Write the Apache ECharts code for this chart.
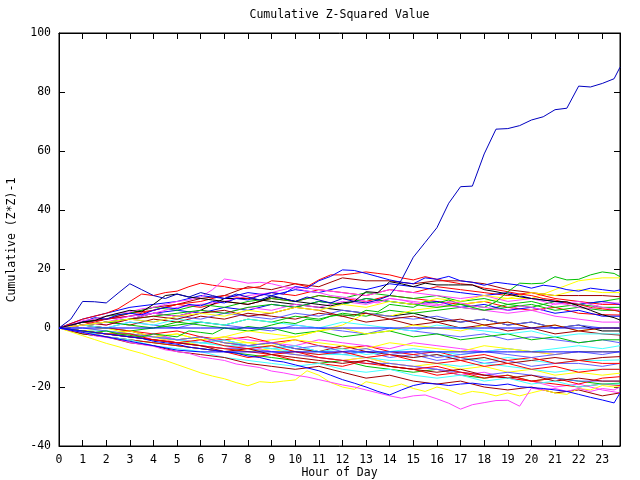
<!DOCTYPE html>
<html><head><meta charset="utf-8">
<script src="https://cdn.jsdelivr.net/npm/echarts@6/dist/echarts.min.js"></script>
<style>html,body{margin:0;padding:0;background:#fff}#c{width:640px;height:480px}</style>
</head><body><div id="c"></div>
<script>
// ---- x positions (hours) ----
const HALF = [0,0.5,1,1.5,2,2.5,3,3.5,4,4.5,5,5.5,6,6.5,7,7.5,8,8.5,9,9.5,10,10.5,11,11.5,12,12.5,13,13.5,14,14.5,15,15.5,16,16.5,17,17.5,18,18.5,19,19.5,20,20.5,21,21.5,22,22.5,23,23.5,23.75];
const HOURS = [0,1,2,3,4,5,6,7,8,9,10,11,12,13,14,15,16,17,18,19,20,21,22,23,23.75];

// ---- tick labels ----
const xTickLabels = ['0','1','2','3','4','5','6','7','8','9','10','11','12','13','14','15','16','17','18','19','20','21','22','23'];
const yTickLabels = ['-40','-20','0','20','40','60','80','100'];

// ---- half-hour series ----
const bigBlue = [0,3,9,8.9,8.5,11.8,15,13,11,10, 11.5,10.5,12,11,10,11.5,10.5,9.5,11,10, 9,10.5,9.5,8.5,10,9,8.5,9.5,11,16.3, 24,29,34,42.3,47.9,48.1,59,67.4,67.6,68.6, 70.5,71.6,74,74.5,82,81.7,82.9,84.5, 88.4];
const blueTop = [0,1,2,3.5,3,4.5,5,4.5,6,7, 6.5,8,7.5,9,8.5,10,9.5,11,12,11.5, 14,13.5,16,17.5,19.7,19.5,18.5,17.4,16.3,15.5, 15,17,16.5,17.5,16,15.5,14.5,15.5,15,14.5, 13.5,14.5,14,13,12.5,13.5,13,12.5, 12.9];
const redTop = [0,1.5,3,4,5,6.5,9,11.5,11,12, 12.5,14,15.2,14.5,14,13.2,13.5,14,16,15.7, 15,14,16.3,18,18,18.5,19,18.5,18,17, 16.3,17.4,16.5,15.7,15,14.6,13.5,13,12.3,11.5, 11,10,9.5,8.5,8,7,6.5,6, 5.5];
const magentaTop = [0,1,2.5,3,4,5,5.5,6.5,7,8, 9,9.5,10.5,13,16.6,16,15.2,15.5,15,14, 13.5,12.5,12,11,10.5,10,9,8.5,10,9.5, 8.5,8,7.5,9,8.5,7.5,7,6.5,6,7.5, 7,6,8.5,8,7,6.5,8.5,8.5, 8.4];
const greenTop = [0,-0.5,-1,-1.5,-1,-2,-2.5,-3,-2,-2.5, -3,-1,-1.5,-2,0,-0.5,0.5,0,1,2, 1.5,3,2.5,4,4.5,4,6,5.5,8,7.5, 7,9,8.5,9.5,8,7.5,7,8.9,12.3,15.2, 15,15.2,17.4,16.3,16.5,18,19,18.5, 17.4];
const blackTop = [0,1,2,2.5,4,5,6,5.5,8,11, 11.5,10.5,10,9.5,9,8.5,8,9,10.6,10, 9,8.5,8,7.5,8.5,9,12.3,12,15.7,15, 14,15.2,14.6,14.6,14.6,14.6,13,12.3,11.5,10.6, 10,9.5,9,8.9,7.5,6,4.5,3.5, 2.7];
const yellowBottom = [0,-1.3,-2.6,-3.9,-5.2,-6.3,-7.5,-8.6,-9.9,-11, -12.4,-13.8,-15.2,-16.3,-17.2,-18.5,-19.6,-18.2,-18.5,-18, -17.6,-14.5,-16,-18.5,-20,-20.8,-18.2,-19,-20,-19, -20.5,-21.5,-20,-21,-22.5,-21.5,-22,-23,-22,-23, -22,-21,-22,-22.5,-20.5,-21,-19.5,-20, -19.9];
const magentaBottom = [0,-0.8,-1.5,-2.6,-3.2,-3.8,-4.9,-5.6,-6.2,-7.4, -8,-8.6,-9.8,-10.4,-11,-12.2,-12.8,-13.4,-14.6,-15.2, -16,-16.6,-17.5,-18.4,-19.3,-20,-21,-22,-23,-23.8, -23,-22.7,-24,-25.5,-27.5,-26,-25.3,-24.6,-24.5,-26.5, -20.4,-21,-20.5,-21.5,-20.5,-21.5,-20.5,-21, -20];
const blueBottom = [0,-0.5,-1,-1.5,-2,-2.5,-3,-3.5,-4.5,-5, -5.5,-6.5,-7,-7.5,-8,-8.5,-9.5,-10,-11,-11.5, -12.5,-13.5,-14.5,-16,-17.5,-18.7,-20,-21.5,-22.7,-21, -19.5,-18.7,-19,-19.5,-19,-18.7,-19.2,-19.5,-19,-19.9, -20.2,-20.5,-21,-21.5,-22.5,-23.5,-24.4,-25.4, -22];

// ---- hourly series ----
const redA = [0,2,3,5,6,8,7,9,8,10,9,11,10,9,11,10,9,8,9,7,6,7,5,4.5,4.4];
const darkredA = [0,1,2,1,3,2,4,3,5,4,3,5,4,2,3,1,2,0,1,-1,0,-2,-1,-2,-2.4];
const slateA = [0,1,0,2,1,0,2,1,0,-1,1,0,-1,-2,0,-1,-2,-3,-2,-4,-3,-4,-5,-4,-5];
const cyanA = [0,-1,-2,-3,-4,-5,-5,-6,-7,-6,-7,-8,-9,-8,-9,-10,-9,-10,-11,-10,-11,-12,-11,-11,-10.8];
const darkredB = [0,-1,-2,-1,-3,-4,-3,-5,-6,-5,-7,-8,-6,-8,-9,-10,-9,-11,-10,-12,-11,-10,-11,-10,-9.7];
const yellowA = [0,-1,-2,-3,-4,-4,-6,-7,-8,-7,-9,-10,-11,-10,-12,-13,-12,-14,-13,-15,-14,-16,-15,-16,-15.3];
const redB = [0,-1,-3,-4,-5,-6,-7,-8,-10,-9,-11,-12,-13,-11,-13,-14,-16,-15,-17,-16,-18,-17,-19,-17,-16.5];
const greenA = [0,-2,-3,-4,-5,-6,-7,-8,-9,-10,-11,-12,-11,-13,-14,-15,-14,-16,-17,-16,-18,-17,-18,-19,-18.7];
const magentaA = [0,-1,-2,-3,-3,-5,-6,-7,-6,-8,-9,-10,-11,-10,-12,-13,-14,-16,-15,-17,-18,-20,-19,-21,-22];
const magentaB = [0,2,1,3,5,4,6,5,7,6,8,7,9,8,10,9,8,7,6,5,6,4,3,2,2];
const greenB = [0,1,0,-1,0,1,2,1,3,2,4,3,5,4,6,5,6,7,6,8,7,9,8,9,10];
const darkredC = [0,2,3,5,7,8,10,11,14,13,15,14,17,16,16,15,16,16,15,13,12,11,11,11,10.6];
const yellowB = [0,-1,-2,-2,-3,-4,-3,-5,-5,-4,-3,-1,1,5,4,6,7,8,9,10,10,13,16,17,17];
const cyanB = [0,-1,-1,-2,-3,-4,-5,-6,-6,-7,-8,-9,-9,-10,-11,-11,-12,-13,-12,-13,-14,-15,-14,-14,-14];
const greenC = [0,1,2,1,0,2,1,0,-1,0,-2,-1,-3,-2,-1,-3,-2,-4,-3,-2,-4,-3,-5,-4,-4];
const yellowC = [0,-1,0,-2,-3,-2,-4,-3,-5,-6,-4,-5,-6,-7,-5,-6,-7,-8,-6,-7,-8,-9,-8,-8,-8];
const slateB = [0,-1,-2,-3,-2,-4,-5,-4,-6,-7,-6,-8,-9,-8,-10,-9,-11,-10,-12,-11,-13,-12,-12,-13,-12];
const redC = [0,1,0,-1,-2,-1,-3,-4,-3,-5,-4,-6,-7,-6,-8,-9,-8,-10,-9,-11,-10,-12,-11,-12,-12];
const cyanC = [0,-1,-2,-2,-3,-4,-5,-4,-6,-7,-6,-8,-7,-9,-8,-7,-8,-9,-8,-7,-8,-7,-6,-7,-6];
const darkredD = [0,-1,-2,-3,-4,-5,-6,-8,-7,-9,-10,-11,-12,-11,-13,-14,-15,-14,-16,-17,-16,-18,-17,-18,-18];
const blueA = [0,2,3,4,5,6,5,7,6,8,7,9,8,10,9,8,9,7,8,6,7,5,6,4,4];
const slateC = [0,1,2,3,2,4,3,5,4,3,5,4,6,5,4,3,4,2,3,1,2,0,1,0,0];
const cyanD = [0,1,0,2,1,3,2,1,3,2,1,0,2,1,0,-1,1,0,-1,-2,-1,-3,-2,-2,-2];
const magentaC = [0,-1,-2,-3,-2,-4,-5,-3,-4,-5,-6,-4,-5,-6,-7,-5,-6,-7,-8,-7,-8,-9,-8,-8,-8];
const redD = [0,-1,-2,-3,-4,-5,-6,-7,-8,-9,-8,-10,-11,-12,-13,-14,-13,-15,-16,-17,-18,-19,-20,-19,-19.5];
const greenD = [0,1,2,3,4,5,6,5,7,8,7,9,8,10,9,8,7,8,6,7,8,6,7,6,6];
const blackB = [0,1,2,3,5,4,6,10,10,9,8,7,6,5,4,5,3,2,3,1,2,0,1,-1,-1];
const darkredE = [0,2,1,3,4,3,5,6,4,5,7,6,4,5,3,4,2,3,1,2,0,1,-1,0,0];
const yellowD = [0,-1,-2,-1,-3,-2,-4,-3,-1,-2,-3,-1,0,-2,-1,1,0,-1,1,2,0,1,-1,0,0];
const slateD = [0,-1,-2,-3,-4,-5,-6,-7,-7,-8,-9,-10,-11,-12,-12,-13,-14,-15,-16,-15,-16,-17,-18,-18,-18];
const redE = [0,1,3,4,6,8,9,11,10,12,11,13,12,11,13,12,14,13,12,11,12,10,9,8,8];
const greenE = [0,2,4,5,7,6,8,7,9,10,9,11,10,12,11,10,11,9,10,8,9,7,8,7,7];
const blueB = [0,3,5,7,8,9,11,10,12,11,13,12,14,13,15,14,13,12,11,12,10,9,8,9,8];
const magentaD = [0,1,2,4,5,7,8,9,11,12,14,13,12,11,13,12,11,10,11,9,10,8,9,7,6];
const cyanE = [0,-1,-3,-4,-6,-7,-8,-10,-11,-12,-13,-12,-14,-15,-14,-16,-17,-16,-18,-17,-19,-18,-20,-19,-19];
const darkredF = [0,-2,-3,-5,-6,-8,-9,-10,-12,-13,-14,-13,-15,-17,-16,-18,-19,-18,-20,-21,-20,-22,-21,-23,-22];
const slateE = [0,0,-1,-2,-3,-4,-3,-5,-6,-5,-7,-6,-8,-7,-9,-8,-10,-9,-8,-9,-10,-9,-8,-9,-8];
const yellowE = [0,1,2,3,2,4,5,4,6,5,7,6,8,7,9,8,10,9,11,10,12,11,13,12,12];
const redF = [0,-1,-2,-2,-4,-5,-4,-6,-7,-6,-8,-9,-8,-10,-9,-11,-12,-11,-13,-12,-14,-13,-15,-14,-14];
const flatZero = [0,0,0,0,0,0,0,0,0,0,0,0,0,0,0,0,0,0,0,0,0,0,0,0,0];
const flatLow = [0,-1.5,-3,-4.5,-6,-7.5,-8.1,-8.1,-8.1,-8.1,-8.1,-8.1,-8.1,-8.1,-8.1,-8.1,-8.1,-8.1,-8.1,-8.1,-8.1,-8.1,-8.1,-8.1,-8.1];

// ---- colours ----
const C = {red:'#ff0000', green:'#00c000', blue:'#0000ff', dblue:'#0000c0', magenta:'#ff40ff',
  cyan:'#40ffff', dred:'#a00000', yellow:'#ffff00', black:'#000000', slate:'#6060ff'};

const specs = [
  [HOURS, redA, C.red], [HOURS, greenA, C.green], [HOURS, slateA, C.slate], [HOURS, magentaA, C.magenta],
  [HOURS, cyanA, C.cyan], [HOURS, darkredA, C.dred], [HOURS, yellowA, C.yellow], [HOURS, blackB, C.black],
  [HOURS, slateB, C.slate], [HOURS, redB, C.red], [HOURS, greenB, C.green], [HOURS, blueA, C.blue],
  [HOURS, magentaB, C.magenta], [HOURS, cyanB, C.cyan], [HOURS, darkredB, C.dred], [HOURS, yellowB, C.yellow],
  [HOURS, slateC, C.slate], [HOURS, redC, C.red], [HOURS, greenC, C.green], [HOURS, magentaC, C.magenta],
  [HOURS, cyanC, C.cyan], [HOURS, darkredC, C.dred], [HOURS, yellowC, C.yellow], [HOURS, slateD, C.slate],
  [HOURS, redD, C.red], [HOURS, greenD, C.green], [HOURS, cyanD, C.cyan], [HOURS, darkredD, C.dred],
  [HOURS, yellowD, C.yellow], [HOURS, darkredE, C.dred],
  [HOURS, redE, C.red], [HOURS, greenE, C.green], [HOURS, blueB, C.blue], [HOURS, magentaD, C.magenta],
  [HOURS, cyanE, C.cyan], [HOURS, darkredF, C.dred], [HOURS, slateE, C.slate], [HOURS, yellowE, C.yellow],
  [HOURS, redF, C.red],
  [HALF, redTop, C.red], [HALF, greenTop, C.green], [HALF, blueTop, C.blue], [HALF, magentaTop, C.magenta],
  [HALF, blackTop, C.black], [HALF, yellowBottom, C.yellow], [HALF, magentaBottom, C.magenta],
  [HALF, blueBottom, C.blue],
  [HOURS, flatZero, C.blue], [HOURS, flatLow, C.blue],
  [HALF, bigBlue, C.dblue]
];

const FONT = 'DejaVu Sans Mono';
const series = specs.map(([xs, vals, col]) => ({
  type: 'line', data: xs.map((x, i) => [x, vals[i]]), showSymbol: false, symbol: 'none',
  lineStyle: {width: 1, color: col}, itemStyle: {color: col}, silent: true, animation: false,
  emphasis: {disabled: true}, clip: true
}));

function xAx(pos, labels) {
  return {type: 'value', min: 0, max: 23.75, interval: 1, position: pos,
    axisLine: {show: true, onZero: false, lineStyle: {color: '#000', width: 1}},
    axisTick: {show: true, inside: true, length: 6, lineStyle: {color: '#000'}},
    axisLabel: {show: labels, color: '#000', fontFamily: FONT, fontSize: 11.5, margin: 8,
      formatter: v => Number.isInteger(v) ? xTickLabels[v] : ''},
    splitLine: {show: false}};
}
function yAx(pos, labels) {
  return {type: 'value', min: -40, max: 100, interval: 20, position: pos,
    axisLine: {show: true, onZero: false, lineStyle: {color: '#000', width: 1}},
    axisTick: {show: true, inside: true, length: 6, lineStyle: {color: '#000'}},
    axisLabel: {show: labels, color: '#000', fontFamily: FONT, fontSize: 11.5, margin: 8,
      formatter: v => yTickLabels[(v + 40) / 20]},
    splitLine: {show: false}};
}

const chart = echarts.init(document.getElementById('c'), null, {renderer: 'canvas'});
chart.setOption({
  animation: false, backgroundColor: '#fff',
  grid: {left: 59, right: 20, top: 33, bottom: 34, show: true, borderColor: '#000', borderWidth: 1},
  xAxis: [xAx('bottom', true), xAx('top', false)],
  yAxis: [yAx('left', true), yAx('right', false)],
  graphic: [
    {type: 'text', x: 339.5, y: 15, style: {text: 'Cumulative Z-Squared Value', fill: '#000', font: '11.5px "DejaVu Sans Mono"', textAlign: 'center', textVerticalAlign: 'middle'}},
    {type: 'text', x: 339.5, y: 473, style: {text: 'Hour of Day', fill: '#000', font: '11.5px "DejaVu Sans Mono"', textAlign: 'center', textVerticalAlign: 'middle'}},
    {type: 'text', x: 12, y: 240, rotation: Math.PI / 2, style: {text: 'Cumulative (Z*Z)-1', fill: '#000', font: '11.5px "DejaVu Sans Mono"', textAlign: 'center', textVerticalAlign: 'middle'}}
  ],
  series: series
});
</script></body></html>
